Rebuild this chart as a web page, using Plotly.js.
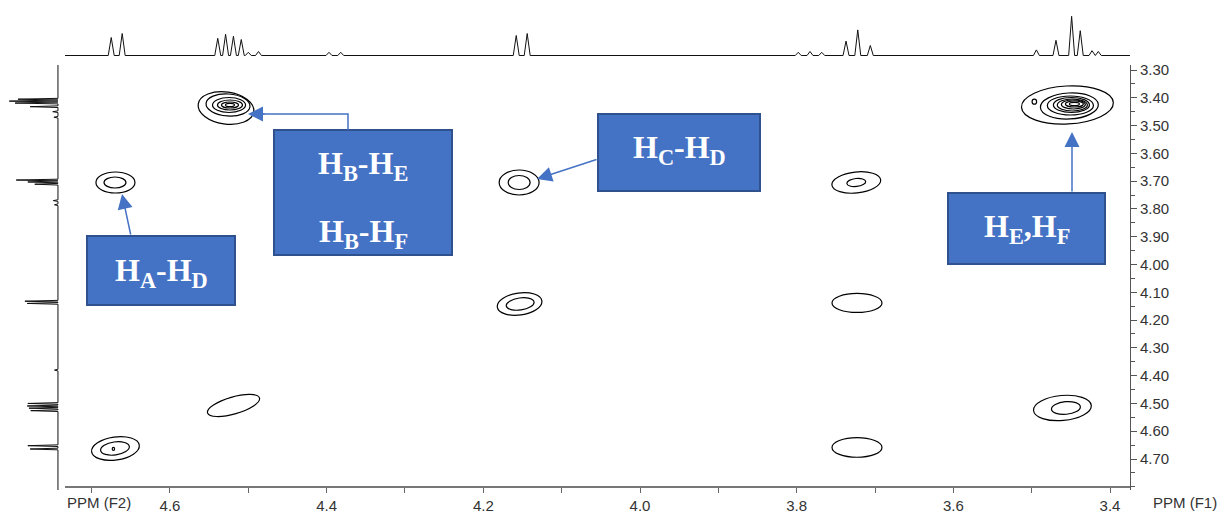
<!DOCTYPE html>
<html><head><meta charset="utf-8">
<script src="https://cdn.plot.ly/plotly-3.0.1.min.js"></script>
<style>html,body{margin:0;padding:0;background:#fff}#chart{width:1222px;height:514px}</style>
</head><body><div id="chart"></div>
<script>
// ---- 1D proton spectrum projected on top (F2): peak positions (ppm) and relative heights
const topPpm = [4.675, 4.661, 4.539, 4.529, 4.519, 4.509, 4.500, 4.487, 4.397, 4.382, 4.158, 4.144,
                3.798, 3.783, 3.768, 3.737, 3.722, 3.706, 3.494, 3.469, 3.449, 3.438, 3.423, 3.415];
const topInt = [45, 55, 43, 53, 48, 40, 8, 10, 8, 8, 50, 55,
                8, 10, 8, 36, 64, 25, 14, 38, 98, 62, 12, 10];

// ---- 1D projection on the left (F1)
const leftPpm = [3.405, 3.412, 3.419, 3.432, 3.450, 3.470, 3.696, 3.703, 3.711, 3.770, 3.785,
                 4.132, 4.140, 4.380, 4.500, 4.509, 4.517, 4.526, 4.652, 4.664];
const leftInt = [69, 84, 74, 48, 9, 7, 72, 52, 40, 8, 6,
                 57, 53, 6, 52, 53, 50, 47, 52, 48];

// ---- 2D COSY contour rings: centre (F2, F1 ppm), half widths (ppm), tilt (deg)
const ringF2 = [4.6696, 4.6702,
  4.5285, 4.5259, 4.5246, 4.5234, 4.5234, 4.5234,
  4.1543, 4.1543,
  4.1537, 4.1530,
  4.5189,
  4.6696, 4.6702, 4.6722,
  3.7239, 3.7239,
  3.7230,
  3.7230,
  3.4544, 3.4519, 3.4506, 3.4493, 3.4481, 3.4468, 3.4455, 3.4455, 3.4966,
  3.4608, 3.4563];
const ringF1 = [3.7048, 3.7048,
  3.4367, 3.4259, 3.4259, 3.4259, 3.4259, 3.4259,
  3.7048, 3.7048,
  4.1420, 4.1420,
  4.5073,
  4.6620, 4.6620, 4.6638,
  3.7048, 3.7048,
  4.1384,
  4.6584,
  3.4259, 3.4295, 3.4277, 3.4259, 3.4259, 3.4241, 3.4223, 3.4223, 3.4141,
  4.5163, 4.5163];
const ringHalfF2 = [0.0249, 0.0140,
  0.0358, 0.0281, 0.0211, 0.0160, 0.0109, 0.0057,
  0.0255, 0.0140,
  0.0287, 0.0179,
  0.0345,
  0.0307, 0.0185, 0.0015,
  0.0313, 0.0121,
  0.0319,
  0.0319,
  0.0587, 0.0370, 0.0294, 0.0230, 0.0192, 0.0153, 0.0115, 0.0064, 0.0029,
  0.0370, 0.0185];
const ringHalfF1 = [0.0378, 0.0198,
  0.0576, 0.0396, 0.0270, 0.0180, 0.0108, 0.0061,
  0.0450, 0.0252,
  0.0396, 0.0216,
  0.0306,
  0.0414, 0.0234, 0.0054,
  0.0378, 0.0144,
  0.0342,
  0.0353,
  0.0684, 0.0468, 0.0342, 0.0270, 0.0216, 0.0162, 0.0108, 0.0061, 0.0090,
  0.0450, 0.0227];
const ringTilt = [0, 0,
  -8, -4, 0, 0, 0, 0,
  0, 0,
  8, 8,
  16,
  8, 8, 0,
  6, 6,
  0,
  0,
  3, 3, 0, 0, 0, 0, 0, 0, 0,
  5, 5];

// ---- axes ticks
const xTickVals = [4.6, 4.4, 4.2, 4.0, 3.8, 3.6, 3.4];
const xTickText = ['4.6', '4.4', '4.2', '4.0', '3.8', '3.6', '3.4'];
const yTickVals = [3.3, 3.4, 3.5, 3.6, 3.7, 3.8, 3.9, 4.0, 4.1, 4.2, 4.3, 4.4, 4.5, 4.6, 4.7];
const yTickText = ['3.30','3.40','3.50','3.60','3.70','3.80','3.90','4.00','4.10','4.20','4.30','4.40','4.50','4.60','4.70'];

// ---- annotation labels
const boxLabels = ['H<sub>A</sub>-H<sub>D</sub>', 'H<sub>B</sub>-H<sub>E</sub>', 'H<sub>B</sub>-H<sub>F</sub>',
                   'H<sub>C</sub>-H<sub>D</sub>', 'H<sub>E</sub>,H<sub>F</sub>'];
const f2Title = 'PPM (F2)';
const f1Title = 'PPM (F1)';

// ================= layout geometry =================
const W = 1222, H = 514;
const X0 = 65, X1 = 1130, Y0 = 65, Y1 = 490, XLINE = 486;
const xRange = [4.7340, 3.3745];
const yRange = [4.8115, 3.2820];
const kx = (X1 - X0) / (xRange[0] - xRange[1]);
const ky = (Y1 - Y0) / (yRange[0] - yRange[1]);
const px = x => x / W;
const py = y => 1 - y / H;

function stickLine(ppm, inten, w, hi, lo) {
  const order = ppm.map((p, i) => i).sort((a, b) => ppm[b] - ppm[a]);
  const pos = [hi], val = [0];
  order.forEach(i => { pos.push(ppm[i] + w, ppm[i], ppm[i] - w); val.push(0, inten[i], 0); });
  pos.push(lo); val.push(0);
  return {pos, val};
}

function ellipsePath(cx, cy, a, b, tiltDeg) {
  const ap = a * kx, bp = b * ky, t = tiltDeg * Math.PI / 180;
  const ux = ap * Math.cos(t), uy = -ap * Math.sin(t);
  const vx = bp * Math.sin(t), vy = bp * Math.cos(t);
  const toData = (sx, sy) => [(cx - sx / kx).toFixed(5), (cy + sy / ky).toFixed(5)];
  const K = 0.5523;
  const pts = [[1,0],[1,K],[K,1],[0,1],[-K,1],[-1,K],[-1,0],[-1,-K],[-K,-1],[0,-1],[K,-1],[1,-K],[1,0]];
  const P = pts.map(([p, q]) => toData(p * ux + q * vx, p * uy + q * vy));
  let d = 'M' + P[0].join(',');
  for (let i = 1; i < 13; i += 3) d += ' C' + P[i].join(',') + ' ' + P[i+1].join(',') + ' ' + P[i+2].join(',');
  return d + ' Z';
}

const topLine = stickLine(topPpm, topInt, 0.0038, xRange[0], xRange[1]);
const leftLine = stickLine(leftPpm, leftInt, 0.003, yRange[0], yRange[1]);

const traces = [
  {x: [], y: [], xaxis: 'x', yaxis: 'y', type: 'scatter', mode: 'lines', showlegend: false, hoverinfo: 'skip'},
  {x: topLine.pos, y: topLine.val, xaxis: 'x2', yaxis: 'y2', type: 'scatter', mode: 'lines',
   line: {color: '#111', width: 1}, showlegend: false, hoverinfo: 'skip'},
  {x: leftLine.val, y: leftLine.pos, xaxis: 'x3', yaxis: 'y3', type: 'scatter', mode: 'lines',
   line: {color: '#111', width: 1}, showlegend: false, hoverinfo: 'skip'}
];

const shapes = [];
for (let i = 0; i < ringF2.length; i++) {
  shapes.push({type: 'path', xref: 'x', yref: 'y',
    path: ellipsePath(ringF2[i], ringF1[i], ringHalfF2[i], ringHalfF1[i], ringTilt[i]),
    line: {color: '#000', width: 1.2}, fillcolor: 'rgba(0,0,0,0)'});
}

const BLUE = '#4472C4', EDGE = '#2F528F';
const boxes = [[87, 236, 235, 305], [274, 130, 452, 255], [598, 114, 760, 191], [948, 193, 1105, 264]];
boxes.forEach(b => shapes.push({type: 'rect', xref: 'paper', yref: 'paper',
  x0: px(b[0]), x1: px(b[2]), y0: py(b[3]), y1: py(b[1]),
  fillcolor: BLUE, line: {color: EDGE, width: 2}}));
// elbow connector of the H_B box
shapes.push({type: 'path', xref: 'paper', yref: 'paper',
  path: 'M' + px(348) + ',' + py(130) + ' L' + px(348) + ',' + py(114) + ' L' + px(262) + ',' + py(114),
  line: {color: BLUE, width: 1.5}});

const serif = {family: 'Liberation Serif, Times New Roman, serif', size: 32, color: '#ffffff'};
const labelPos = [[161, 272], [363, 166], [363, 234], [679, 149], [1027, 229]];
const annotations = boxLabels.map((t, i) => ({
  xref: 'paper', yref: 'paper', x: px(labelPos[i][0]), y: py(labelPos[i][1]),
  xanchor: 'center', yanchor: 'middle', text: '<b>' + t + '</b>', showarrow: false, font: serif
}));
const arrows = [[122, 194, 131, 236], [248, 114, 266, 114], [537, 179, 598, 159], [1072, 132, 1072, 193]];
arrows.forEach(a => annotations.push({xref: 'paper', yref: 'paper', x: px(a[0]), y: py(a[1]),
  ax: a[2] - a[0], ay: a[3] - a[1], axref: 'pixel', ayref: 'pixel', text: '', showarrow: true,
  arrowhead: 2, arrowsize: 2, arrowwidth: 1.5, arrowcolor: BLUE, standoff: 0}));
const sans = {family: 'Liberation Sans, Arial, sans-serif', size: 15, color: '#333'};
annotations.push({xref: 'paper', yref: 'paper', x: px(65), y: py(502), xanchor: 'left', yanchor: 'middle',
  text: f2Title, showarrow: false, font: sans});
annotations.push({xref: 'paper', yref: 'paper', x: px(1219), y: py(502), xanchor: 'right', yanchor: 'middle',
  text: f1Title, showarrow: false, font: sans});

const layout = {
  width: W, height: H, margin: {l: 0, r: 0, t: 0, b: 0},
  paper_bgcolor: '#fff', plot_bgcolor: 'rgba(0,0,0,0)',
  font: {family: 'Liberation Sans, Arial, sans-serif', color: '#333'},
  showlegend: false,
  xaxis: {domain: [px(X0), px(X1)], range: xRange, anchor: 'free', position: py(XLINE),
    tickmode: 'array', tickvals: xTickVals, ticktext: xTickText,
    ticks: 'outside', ticklen: 5, tickcolor: '#666', tickwidth: 1,
    showline: true, linecolor: '#777', linewidth: 1.5, showgrid: false, zeroline: false,
    tickfont: {family: 'Liberation Sans, Arial, sans-serif', size: 15, color: '#333'},
    minor: {dtick: 0.1, tick0: 0, ticks: 'outside', ticklen: 5, tickcolor: '#666', showgrid: false}},
  yaxis: {domain: [py(Y1), py(Y0)], range: yRange, anchor: 'x', side: 'right',
    tickmode: 'array', tickvals: yTickVals, ticktext: yTickText,
    ticks: 'outside', ticklen: 6, tickcolor: '#555', tickwidth: 1,
    showline: true, linecolor: '#555', linewidth: 1, showgrid: false, zeroline: false,
    tickfont: {family: 'Liberation Sans, Arial, sans-serif', size: 15, color: '#333'},
    minor: {dtick: 0.05, tick0: 0, ticks: 'outside', ticklen: 4, tickcolor: '#555', showgrid: false}},
  xaxis2: {domain: [px(X0), px(X1)], range: xRange, anchor: 'y2', visible: false},
  yaxis2: {domain: [py(56.7), py(15.5)], range: [-3, 100], anchor: 'x2', visible: false},
  xaxis3: {domain: [0, px(59.7)], range: [100, -3], anchor: 'y3', visible: false},
  yaxis3: {domain: [py(Y1), py(Y0)], range: yRange, anchor: 'x3', visible: false},
  shapes: shapes,
  annotations: annotations
};

Plotly.newPlot('chart', traces, layout, {displayModeBar: false, staticPlot: true});
</script>
</body></html>
